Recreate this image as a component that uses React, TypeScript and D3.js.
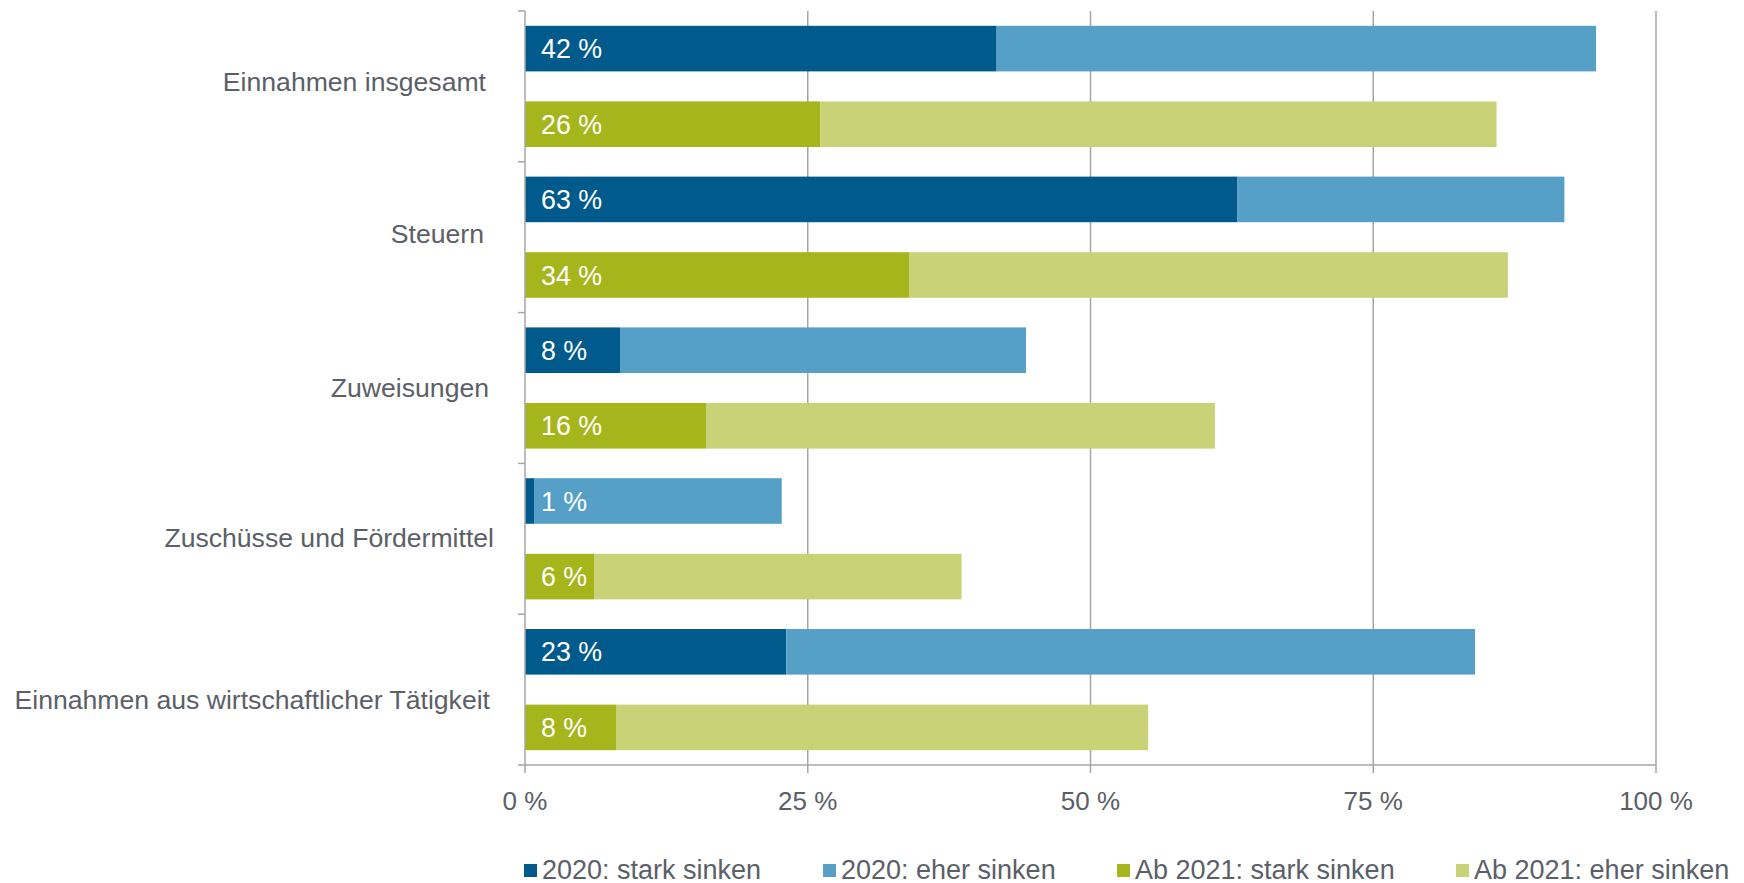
import React from "react";
import * as d3 from "d3";

const categories = [
  "Einnahmen insgesamt",
  "Steuern",
  "Zuweisungen",
  "Zuschüsse und Fördermittel",
  "Einnahmen aus wirtschaftlicher Tätigkeit",
];
const rows = ["2020", "2021"];
const stark2020 = [41.7, 63.0, 8.4, 0.8, 23.1];
const eher2020 = [53.0, 28.9, 35.9, 21.9, 60.9];
const stark2021 = [26.1, 34.0, 16.0, 6.1, 8.1];
const eher2021 = [59.8, 52.9, 45.0, 32.5, 47.0];
const xTicks = [0, 25, 50, 75, 100];
const legendLabels = [
  "2020: stark sinken",
  "2020: eher sinken",
  "Ab 2021: stark sinken",
  "Ab 2021: eher sinken",
];

const COLORS = ["#005a8c", "#56a0c8", "#a6b51b", "#c9d277"];
const TEXT = "#5b6068";
const GRID = "#a6a6a6";
const FONT = "'Liberation Sans', Arial, sans-serif";
// small label placement nudges (layout only)
const LABEL_DX = [-3, -5, 0, 5, 1];
const LABEL_DY = [-5, -4, -1, -1, 10];

export default function App() {
  const W = 1744;
  const H = 883;
  const left = 525;
  const right = 1656;
  const top = 11;
  const bottom = 765;

  const x = d3.scaleLinear().domain([0, 100]).range([left, right]);
  const y = d3.scaleBand<string>().domain(categories).range([top, bottom]);
  const inner = d3
    .scaleBand<string>()
    .domain(rows)
    .range([0, y.bandwidth()])
    .paddingInner(0.397)
    .paddingOuter(0.196);

  const bars: { cat: string; row: string; x0: number; x1: number; color: string }[] = [];
  const labels: { cat: string; row: string; text: string }[] = [];
  categories.forEach((c, i) => {
    bars.push({ cat: c, row: "2020", x0: 0, x1: stark2020[i], color: COLORS[0] });
    bars.push({ cat: c, row: "2020", x0: stark2020[i], x1: stark2020[i] + eher2020[i], color: COLORS[1] });
    bars.push({ cat: c, row: "2021", x0: 0, x1: stark2021[i], color: COLORS[2] });
    bars.push({ cat: c, row: "2021", x0: stark2021[i], x1: stark2021[i] + eher2021[i], color: COLORS[3] });
    labels.push({ cat: c, row: "2020", text: `${Math.round(stark2020[i])} %` });
    labels.push({ cat: c, row: "2021", text: `${Math.round(stark2021[i])} %` });
  });

  const legendX = [524, 823, 1117, 1456];

  return (
    <svg
      width={W}
      height={H}
      style={{ position: "absolute", left: 0, top: 0, display: "block", background: "#fff" }}
      fontFamily={FONT}
    >
      {xTicks.slice(1).map((t) => (
        <line key={"g" + t} x1={x(t)} x2={x(t)} y1={top} y2={bottom} stroke={GRID} strokeWidth={1.5} />
      ))}
      {bars.map((b, i) => (
        <rect
          key={"b" + i}
          x={x(b.x0)}
          y={(y(b.cat) as number) + (inner(b.row) as number)}
          width={x(b.x1) - x(b.x0)}
          height={inner.bandwidth()}
          fill={b.color}
        />
      ))}
      {labels.map((l, i) => (
        <text
          key={"l" + i}
          x={x(0) + 16}
          y={(y(l.cat) as number) + (inner(l.row) as number) + inner.bandwidth() / 2}
          dy="0.36em"
          fontSize={26.8}
          fill="#fff"
        >
          {l.text}
        </text>
      ))}
      <line x1={left} x2={left} y1={top} y2={bottom} stroke={GRID} strokeWidth={1.5} />
      {categories.map((c, i) => (
        <line
          key={"yt" + i}
          x1={left - 7}
          x2={left}
          y1={y(c) as number}
          y2={y(c) as number}
          stroke={GRID}
          strokeWidth={1.5}
        />
      ))}
      <line x1={left - 7} x2={right} y1={bottom} y2={bottom} stroke={GRID} strokeWidth={1.5} />
      {xTicks.map((t) => (
        <g key={"xt" + t}>
          <line x1={x(t)} x2={x(t)} y1={bottom} y2={bottom + 8} stroke={GRID} strokeWidth={1.5} />
          <text x={x(t)} y={810} textAnchor="middle" fontSize={26} fill={TEXT}>
            {`${t} %`}
          </text>
        </g>
      ))}
      {categories.map((c, i) => (
        <text
          key={"c" + c}
          x={489 + LABEL_DX[i]}
          y={(y(c) as number) + y.bandwidth() / 2 + LABEL_DY[i]}
          dy="0.36em"
          textAnchor="end"
          fontSize={26.6}
          fill={TEXT}
        >
          {c}
        </text>
      ))}
      {legendLabels.map((l, i) => (
        <g key={"lg" + i}>
          <rect x={legendX[i]} y={864} width={13} height={13} fill={COLORS[i]} />
          <text x={legendX[i] + 18} y={879} fontSize={27} fill={TEXT}>
            {l}
          </text>
        </g>
      ))}
    </svg>
  );
}
